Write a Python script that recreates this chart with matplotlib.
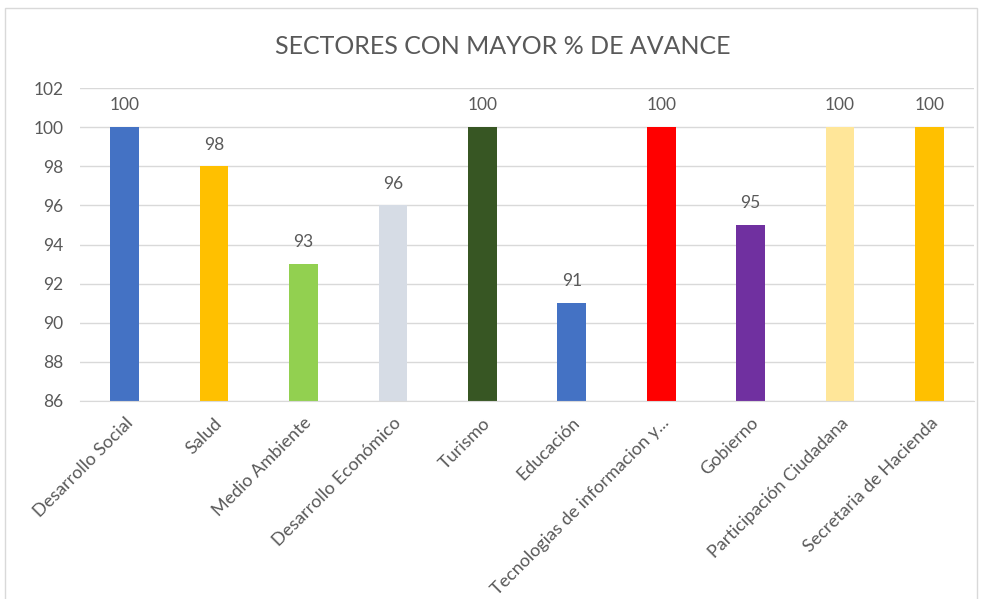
import matplotlib.pyplot as plt
from matplotlib.patches import Rectangle

sectores = ['Desarrollo Social', 'Salud', 'Medio Ambiente', 'Desarrollo Económico',
            'Turismo', 'Educación', 'Tecnologias de informacion y...', 'Gobierno',
            'Participación Ciudadana', 'Secretaria de Hacienda']
avance = [100, 98, 93, 96, 100, 91, 100, 95, 100, 100]
colores = ['#4472C4', '#FFC000', '#92D050', '#D6DCE5', '#375623',
           '#4472C4', '#FF0000', '#7030A0', '#FFE699', '#FFC000']
yticks = [86, 88, 90, 92, 94, 96, 98, 100, 102]

plt.rcParams['font.family'] = ['Lato', 'DejaVu Sans']
texto = '#595959'

fig = plt.figure(figsize=(9.83, 5.99), dpi=100)
fig.patches.append(Rectangle((0.005, -0.01), 0.989, 0.996, transform=fig.transFigure,
                             fill=False, edgecolor='#D9D9D9', linewidth=1))
ax = fig.add_axes([0.0814, 0.3306, 0.9096, 0.5224])

x = range(len(sectores))
ax.bar(x, [v - 86 for v in avance], bottom=86, width=0.32, color=colores, zorder=2)
for xi, v in zip(x, avance):
    ax.text(xi, v + 0.7, str(v), ha='center', va='bottom', fontsize=12.5, color=texto)

ax.set_xlim(-0.5, len(sectores) - 0.5)
ax.set_ylim(86, 102)
ax.set_yticks(yticks)
ax.set_yticklabels([str(t) for t in yticks], fontsize=12.5, color=texto)
ax.set_xticks(list(x))
ax.set_xticklabels(sectores, rotation=45, ha='right', rotation_mode='anchor',
                   fontsize=13, color=texto)
ax.tick_params(axis='x', length=0, pad=10)
ax.tick_params(axis='y', length=0, pad=12)
ax.grid(axis='y', color='#D9D9D9', linewidth=1, zorder=0)
for s in ['top', 'right', 'left']:
    ax.spines[s].set_visible(False)
ax.spines['bottom'].set_color('#D9D9D9')

fig.text(0.511, 0.922, 'SECTORES CON MAYOR % DE AVANCE', ha='center', va='center',
         fontsize=18, color=texto)

fig.savefig('out.png', dpi=100)
